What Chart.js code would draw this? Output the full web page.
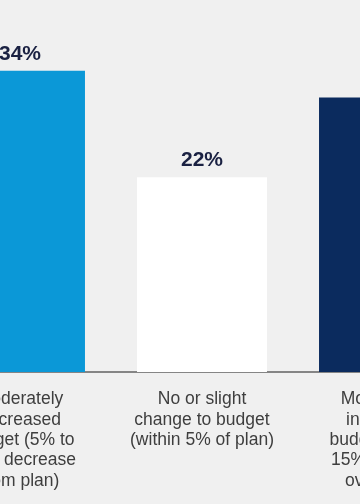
<!DOCTYPE html>
<html>
<head>
<meta charset="utf-8">
<script src="https://cdn.jsdelivr.net/npm/chart.js@4/dist/chart.umd.min.js"></script>
<style>
html,body{margin:0;padding:0;background:#f0f0f0;overflow:hidden;width:360px;height:504px;}
#wrap{position:absolute;left:-71px;top:0;width:546px;height:504px;}
</style>
</head>
<body>
<div id="wrap"><canvas id="c"></canvas></div>
<script>
const categories = [
  ["Moderately", "decreased", "budget (5% to", "15% decrease", "from plan)"],
  ["No or slight", "change to budget", "(within 5% of plan)"],
  ["Moderately", "increased", "budget (5% to", "15% increase", "over plan)"]
];
const values = [34, 22, 31];
const barColors = ["#0b98d7", "#ffffff", "#0b2b5e"];

const valueLabels = {
  id: 'valueLabels',
  afterDatasetsDraw(chart) {
    const ctx = chart.ctx;
    const meta = chart.getDatasetMeta(0);
    ctx.save();
    ctx.font = 'bold 21px "Liberation Sans", Arial, sans-serif';
    ctx.fillStyle = '#1a2142';
    ctx.textAlign = 'center';
    ctx.textBaseline = 'middle';
    meta.data.forEach((bar, i) => {
      ctx.fillText(values[i] + '%', bar.x, bar.y - 17);
    });
    ctx.restore();
  }
};

new Chart(document.getElementById('c'), {
  type: 'bar',
  data: {
    labels: categories,
    datasets: [{
      data: values,
      backgroundColor: barColors,
      borderWidth: 0,
      categoryPercentage: 1,
      barPercentage: 0.714
    }]
  },
  options: {
    responsive: true,
    maintainAspectRatio: false,
    animation: false,
    layout: { padding: 0 },
    plugins: { legend: { display: false }, tooltip: { enabled: false } },
    scales: {
      x: {
        grid: { display: false, drawTicks: false },
        border: { display: true, color: '#858585', width: 2 },
        ticks: {
          autoSkip: false,
          maxRotation: 0,
          minRotation: 0,
          padding: 17,
          color: '#3e3e3e',
          font: { family: '"Liberation Sans", Arial, sans-serif', size: 17.5, lineHeight: 1.17 }
        },
        afterFit(scale) { scale.height = 132; }
      },
      y: {
        display: false,
        min: 0,
        max: 42
      }
    }
  },
  plugins: [valueLabels]
});
</script>
</body>
</html>
